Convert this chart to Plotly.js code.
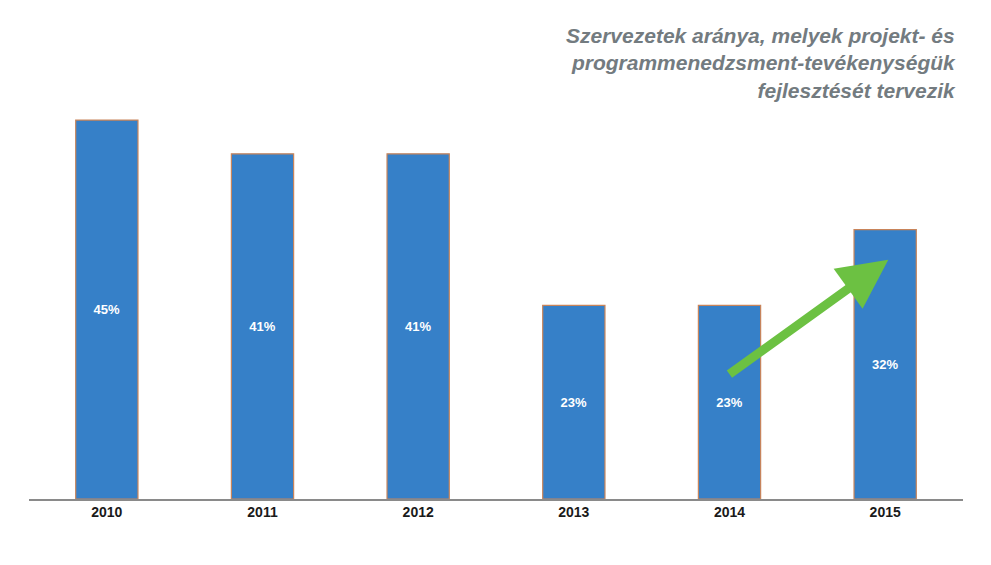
<!DOCTYPE html>
<html>
<head>
<meta charset="utf-8">
<script src="https://cdn.plot.ly/plotly-3.0.1.min.js"></script>
<style>html,body{margin:0;padding:0;background:#fff;}#chart{width:991px;height:565px;}</style>
</head>
<body>
<div id="chart"></div>
<script>
const years = ['2010', '2011', '2012', '2013', '2014', '2015'];
const shares = [45, 41, 41, 23, 23, 32];
const shareLabels = ['45%', '41%', '41%', '23%', '23%', '32%'];
const titleText = 'Szervezetek aránya, melyek projekt- és<br>programmenedzsment-tevékenységük<br>fejlesztését tervezik';

const trace = {
  type: 'bar',
  x: years,
  y: shares,
  text: shareLabels,
  textposition: 'inside',
  insidetextanchor: 'middle',
  textangle: 0,
  textfont: {family: 'Liberation Sans, Arial, sans-serif', size: 13, color: '#ffffff', weight: 'bold'},
  marker: {color: '#3680c8', line: {color: '#c8845a', width: 1.2}},
  hoverinfo: 'none'
};

const layout = {
  width: 991, height: 565,
  margin: {l: 29, r: 28, t: 78, b: 66},
  paper_bgcolor: '#ffffff', plot_bgcolor: '#ffffff',
  bargap: 0.6,
  showlegend: false,
  xaxis: {
    type: 'category',
    showgrid: false, zeroline: false,
    showline: true, linecolor: '#8a8a8a', linewidth: 1.5,
    ticks: '',
    tickfont: {family: 'Liberation Sans, Arial, sans-serif', size: 14, color: '#1a1a1a', weight: 'bold'},
    fixedrange: true
  },
  yaxis: {
    range: [0, 50],
    visible: false,
    showgrid: false, zeroline: false,
    fixedrange: true
  },
  annotations: [
    {
      xref: 'paper', yref: 'paper',
      x: 0.995, y: 1.035, xanchor: 'right', yanchor: 'middle',
      align: 'right', showarrow: false,
      text: '<b><i>' + titleText + '</i></b>',
      font: {family: 'Liberation Sans, Arial, sans-serif', size: 21, color: '#737b80'}
    },
    {
      xref: 'x', yref: 'y', axref: 'x', ayref: 'y',
      x: 5.02, y: shares[5] - 3.6,
      ax: 3.99, ay: shares[4] - 8.3,
      text: '', showarrow: true,
      arrowhead: 2, arrowsize: 1.1, arrowwidth: 9,
      arrowcolor: '#6cc142', standoff: 0
    }
  ]
};

Plotly.newPlot('chart', [trace], layout, {displayModeBar: false, staticPlot: true});
</script>
</body>
</html>
